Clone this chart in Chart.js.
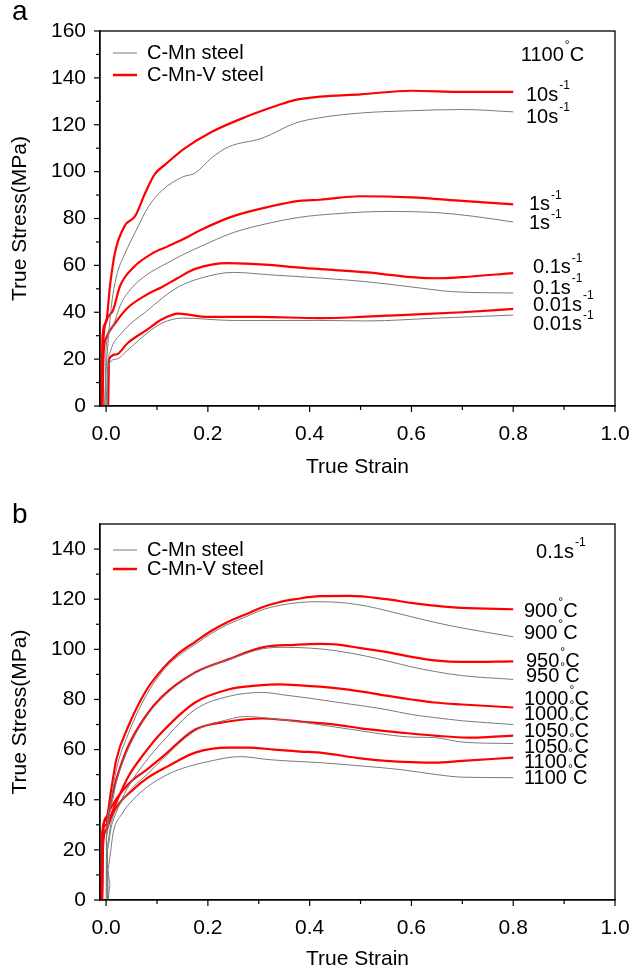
<!DOCTYPE html>
<html>
<head>
<meta charset="utf-8">
<script src="https://cdn.jsdelivr.net/npm/chart.js@4.4.0/dist/chart.umd.min.js"></script>
<style>
  html, body { margin: 0; padding: 0; background: #fff; }
  #wrap { position: relative; width: 632px; height: 974px; }
  .panel { position: absolute; left: 0; width: 632px; height: 487px; }
  #pa { top: 0; }
  #pb { top: 487px; }
</style>
</head>
<body>
<div id="wrap">
  <div class="panel" id="pa"><canvas id="chartA" width="632" height="487"></canvas></div>
  <div class="panel" id="pb"><canvas id="chartB" width="632" height="487"></canvas></div>
</div>
<script>
// ---- data: [strain, stress MPa] ----
// panel a, 1100 C, different strain rates
var aGray10 = [[-0.003,0],[0.0,15],[0.005,30],[0.01,42],[0.02,55],[0.037,65],[0.057,74],[0.083,85],[0.11,92],[0.15,97.7],[0.175,99.4],[0.208,106],[0.24,110.5],[0.307,114.3],[0.372,120.7],[0.42,123],[0.5,125],[0.6,126],[0.7,126.5],[0.8,125.5]];
var aRed10 = [[-0.009,0],[-0.007,30],[0.0,36],[0.008,52],[0.018,66],[0.037,77],[0.057,81],[0.077,91],[0.096,99],[0.116,103],[0.155,110],[0.208,117],[0.274,123.3],[0.339,128.4],[0.372,130.6],[0.42,132],[0.5,133],[0.6,134.5],[0.7,134],[0.8,134]];
var aGray1 = [[-0.002,0],[0.0,25],[0.01,33],[0.03,44],[0.053,51],[0.08,56],[0.12,61],[0.155,65],[0.185,68],[0.25,74],[0.32,78],[0.38,80.5],[0.45,82],[0.55,83],[0.65,82.5],[0.72,81],[0.8,78.5]];
var aRed1 = [[-0.008,0],[-0.006,25],[0.0,36],[0.014,41],[0.027,51],[0.053,59],[0.09,65],[0.12,68],[0.15,71],[0.185,75],[0.25,81],[0.32,85],[0.38,87.5],[0.42,88],[0.5,89.5],[0.6,89],[0.7,87.5],[0.8,86]];
var aGray01 = [[0.0,0],[0.003,17],[0.008,23],[0.03,31],[0.053,36],[0.077,40],[0.11,46],[0.142,50.8],[0.185,54.5],[0.25,57],[0.32,56],[0.42,54.6],[0.513,53],[0.6,50.8],[0.68,48.8],[0.8,48.2]];
var aRed01 = [[-0.007,0],[-0.005,22],[0.0,29],[0.02,36],[0.043,42],[0.08,47.5],[0.11,50.8],[0.14,54.5],[0.175,58.5],[0.24,61],[0.32,60.2],[0.38,59],[0.45,58],[0.513,57],[0.6,55],[0.65,54.5],[0.7,55],[0.8,56.7]];
var aGray001 = [[0.002,0],[0.004,17],[0.02,20],[0.043,24],[0.08,31],[0.11,35.4],[0.15,37.5],[0.25,36.5],[0.42,36.5],[0.513,36.3],[0.65,37.5],[0.8,38.8]];
var aRed001 = [[0.004,0],[0.006,20],[0.02,22],[0.043,27],[0.08,32.5],[0.11,37],[0.142,39.4],[0.2,38],[0.3,38],[0.42,37.5],[0.5,38],[0.58,38.8],[0.7,40],[0.8,41.4]];

// panel b, 0.1 s-1, different temperatures
var bGray900 = [[0.002,0],[0.0,25],[0.01,40],[0.02,52],[0.043,66],[0.077,81],[0.11,91],[0.14,97],[0.175,102],[0.208,106.5],[0.24,110],[0.275,113],[0.307,115.8],[0.34,117.5],[0.38,118.7],[0.42,119],[0.47,118.5],[0.513,117.2],[0.55,115.5],[0.6,113],[0.645,110.8],[0.7,108.5],[0.8,105]];
var bRed900 = [[-0.009,0],[-0.007,28],[0.0,32],[0.01,44],[0.02,56],[0.043,69],[0.077,83],[0.11,92],[0.14,98],[0.175,103],[0.208,107.5],[0.24,111],[0.275,114],[0.307,116.8],[0.34,118.8],[0.372,120],[0.42,121.2],[0.48,121.3],[0.55,120],[0.6,118.5],[0.65,117.3],[0.7,116.5],[0.8,116]];
var bGray950 = [[0.0,0],[0.001,26],[0.01,38],[0.02,47],[0.043,60],[0.077,72.5],[0.11,80.5],[0.175,90.5],[0.24,95.8],[0.307,100.2],[0.35,100.8],[0.4,100.5],[0.45,99.5],[0.513,97.2],[0.55,95.5],[0.6,93],[0.645,91.2],[0.7,89.5],[0.8,88]];
var bRed950 = [[-0.009,0],[-0.007,27],[0.0,30],[0.01,40],[0.02,48],[0.043,61.2],[0.077,73.2],[0.11,81.2],[0.175,90.8],[0.24,96],[0.307,100.8],[0.372,101.8],[0.42,102.2],[0.45,102],[0.5,100.5],[0.55,99],[0.6,97],[0.65,95.5],[0.7,95],[0.8,95.2]];
var bGray1000 = [[0.003,0],[0.002,20],[0.01,29],[0.02,35],[0.043,45],[0.077,55],[0.11,63],[0.175,76],[0.24,81.2],[0.307,82.8],[0.35,81.8],[0.4,80.5],[0.45,79],[0.513,77.2],[0.55,76],[0.6,74],[0.645,72.8],[0.7,71.5],[0.8,70]];
var bRed1000 = [[-0.008,0],[-0.006,24],[0.0,28],[0.01,34],[0.02,39],[0.043,49],[0.077,59],[0.11,67],[0.175,78.8],[0.24,84],[0.3,85.6],[0.34,86],[0.382,85.6],[0.45,84.5],[0.513,82.8],[0.55,81.5],[0.6,80],[0.645,78.8],[0.7,78],[0.8,76.8]];
var bGray1050 = [[0.004,0],[0.002,22],[0.01,31],[0.03,39],[0.053,45],[0.08,50],[0.11,56],[0.175,67.5],[0.24,72],[0.274,73.2],[0.32,72.5],[0.4,70.5],[0.45,69],[0.5,67.5],[0.55,66],[0.6,65],[0.645,64.8],[0.7,63],[0.8,62.4]];
var bRed1050 = [[-0.008,0],[-0.006,28],[0.0,33],[0.01,37],[0.03,43],[0.053,48],[0.08,52],[0.11,57],[0.175,68],[0.24,71.2],[0.307,72.4],[0.35,71.8],[0.382,71.2],[0.45,70],[0.5,68.5],[0.58,66.8],[0.65,65.5],[0.71,64.8],[0.75,65],[0.8,65.6]];
var bGray1100 = [[0.004,0],[0.008,6],[0.003,12],[0.008,18],[0.014,27],[0.03,34],[0.053,40],[0.08,45],[0.12,50],[0.15,52.5],[0.2,55.2],[0.264,57.2],[0.32,56],[0.382,55.2],[0.42,54.8],[0.5,53.5],[0.58,52],[0.65,50],[0.7,49],[0.8,48.8]];
var bRed1100 = [[-0.008,0],[-0.006,22],[0.0,28],[0.008,32],[0.02,37],[0.053,44],[0.08,48.5],[0.12,53.2],[0.175,58.8],[0.24,60.8],[0.28,60.8],[0.33,60],[0.382,59.2],[0.42,58.8],[0.5,56.5],[0.55,55.5],[0.6,55],[0.645,54.8],[0.7,55.5],[0.8,56.8]];

// axes
var xTicks = [0, 0.2, 0.4, 0.6, 0.8, 1.0];
var yTicksA = [0, 20, 40, 60, 80, 100, 120, 140, 160];
var yTicksB = [0, 20, 40, 60, 80, 100, 120, 140];

// curve labels at the right: [text, superscript, tail, strain, stress]
var notesA = [
  ['1100', '°', 'C', 0.815, 149.7],
  ['10s', '-1', '', 0.825, 132.7],
  ['10s', '-1', '', 0.825, 123.3],
  ['1s', '-1', '', 0.831, 85.8],
  ['1s', '-1', '', 0.831, 78.0],
  ['0.1s', '-1', '', 0.839, 58.9],
  ['0.1s', '-1', '', 0.839, 50.3],
  ['0.01s', '-1', '', 0.839, 43.1],
  ['0.01s', '-1', '', 0.839, 34.6]
];
var notesB = [
  ['0.1s', '-1', '', 0.845, 138.8],
  ['900', '°', 'C', 0.821, 115.2],
  ['900', '°', 'C', 0.821, 106.4],
  ['950', '°', 'C', 0.825, 95.2],
  ['950', '°', 'C', 0.825, 89.2],
  ['1000', '°', 'C', 0.821, 80.0],
  ['1000', '°', 'C', 0.821, 74.0],
  ['1050', '°', 'C', 0.821, 67.2],
  ['1050', '°', 'C', 0.821, 60.8],
  ['1100', '°', 'C', 0.821, 54.8],
  ['1100', '°', 'C', 0.821, 48.4]
];

var FONT = '"Liberation Sans", Arial, sans-serif';
var GRAY = '#7a7a7a';
var RED = '#ff0000';

function toXY (arr) {
  return arr.map(function (p) { return {x: p[0], y: p[1]}; });
}

function line (arr, red) {
  return {
    data: toXY(arr),
    showLine: true,
    borderColor: red ? RED : GRAY,
    borderWidth: red ? 2.2 : 1,
    pointRadius: 0,
    tension: 0.25,
    cubicInterpolationMode: 'monotone'
  };
}

// frame, minor ticks, legend, tags and curve labels
var frame = {
  id: 'frame',
  afterDraw: function (chart, args, o) {
    var ctx = chart.ctx, ca = chart.chartArea;
    var x = chart.scales.x, y = chart.scales.y;
    ctx.save();
    ctx.strokeStyle = '#000';
    ctx.lineWidth = 1.3;
    ctx.strokeRect(ca.left, ca.top, ca.right - ca.left, ca.bottom - ca.top);

    ctx.lineWidth = 1.2;
    for (var i = 0; i <= 10; i++) {
      var px = x.getPixelForValue(i / 10);
      ctx.beginPath();
      ctx.moveTo(px, ca.bottom);
      ctx.lineTo(px, ca.bottom + (i % 2 === 0 ? 6 : 4));
      ctx.stroke();
    }
    for (var v = 0; v <= o.yMax; v += 10) {
      var py = y.getPixelForValue(v);
      ctx.beginPath();
      ctx.moveTo(ca.left, py);
      ctx.lineTo(ca.left - (v % 20 === 0 ? 6 : 4), py);
      ctx.stroke();
    }

    // legend
    ctx.font = '20px ' + FONT;
    ctx.textBaseline = 'middle';
    ctx.fillStyle = '#000';
    ctx.strokeStyle = GRAY; ctx.lineWidth = 1;
    ctx.beginPath(); ctx.moveTo(ca.left + 13, ca.top + o.legY[0]); ctx.lineTo(ca.left + 37, ca.top + o.legY[0]); ctx.stroke();
    ctx.fillText('C-Mn steel', ca.left + 47, ca.top + o.legY[0]);
    ctx.strokeStyle = RED; ctx.lineWidth = 2.5;
    ctx.beginPath(); ctx.moveTo(ca.left + 13, ca.top + o.legY[1]); ctx.lineTo(ca.left + 37, ca.top + o.legY[1]); ctx.stroke();
    ctx.fillText('C-Mn-V steel', ca.left + 47, ca.top + o.legY[1]);

    // panel tag
    ctx.font = '28px ' + FONT;
    ctx.textBaseline = 'alphabetic';
    ctx.fillText(o.tag, 12, o.tagY);

    // curve labels
    o.notes.forEach(function (n) {
      var nx = x.getPixelForValue(n[3]);
      var ny = y.getPixelForValue(n[4]);
      ctx.font = '20px ' + FONT;
      ctx.textBaseline = 'middle';
      ctx.fillText(n[0], nx, ny);
      var w = ctx.measureText(n[0]).width;
      ctx.font = '12px ' + FONT;
      ctx.fillText(n[1], nx + w + 1, ny - 9);
      var w2 = n[1] === '°' ? 6 : ctx.measureText(n[1]).width + 1;
      if (n[2]) {
        ctx.font = '20px ' + FONT;
        ctx.fillText(n[2], nx + w + w2, ny);
      }
    });
    ctx.restore();
  }
};

function makeChart (id, datasets, yTicks, yMax, padTop, xHeight, titlePad, extra) {
  return new Chart(document.getElementById(id), {
    type: 'scatter',
    data: {datasets: datasets},
    plugins: [frame],
    options: {
      responsive: false,
      animation: false,
      layout: {padding: {left: 0, top: padTop, right: 17, bottom: 0}},
      plugins: {legend: {display: false}, tooltip: {enabled: false}, frame: extra},
      scales: {
        x: {
          type: 'linear', min: -0.012, max: 1.0,
          afterBuildTicks: function (s) { s.ticks = xTicks.map(function (v) { return {value: v}; }); },
          afterFit: function (s) { s.height = xHeight; s.paddingLeft = 0; s.paddingRight = 0; },
          grid: {display: false, drawTicks: false},
          border: {display: true, color: '#000', width: 1.3},
          ticks: {
            padding: 16, color: '#000', font: {family: FONT, size: 21},
            maxRotation: 0, autoSkip: false,
            callback: function (v) { return Number(v).toFixed(1); }
          },
          title: {display: true, text: 'True Strain', color: '#000', font: {family: FONT, size: 21}, padding: {top: 0, bottom: titlePad}}
        },
        y: {
          type: 'linear', min: 0, max: yMax,
          afterBuildTicks: function (s) { s.ticks = yTicks.map(function (v) { return {value: v}; }); },
          afterFit: function (s) { s.width = 100; s.paddingTop = 0; s.paddingBottom = 0; },
          grid: {display: false, drawTicks: false},
          border: {display: true, color: '#000', width: 1.3},
          ticks: {padding: 14, color: '#000', font: {family: FONT, size: 21}, autoSkip: false},
          title: {display: true, text: 'True Stress(MPa)', color: '#000', font: {family: FONT, size: 21}, padding: {top: 8, bottom: 0}}
        }
      }
    }
  });
}

var dsA = [
  line(aGray10), line(aGray1), line(aGray01), line(aGray001),
  line(aRed10, true), line(aRed1, true), line(aRed01, true), line(aRed001, true)
];
var dsB = [
  line(bGray900), line(bGray950), line(bGray1000), line(bGray1050), line(bGray1100),
  line(bRed900, true), line(bRed950, true), line(bRed1000, true), line(bRed1050, true), line(bRed1100, true)
];

makeChart('chartA', dsA, yTicksA, 160, 31, 81, 7, {tag: 'a', tagY: 20, yMax: 160, legY: [22, 44], notes: notesA});
makeChart('chartB', dsB, yTicksB, 150, 37, 74, 2, {tag: 'b', tagY: 36, yMax: 140, legY: [26, 45], notes: notesB});
</script>
</body>
</html>
